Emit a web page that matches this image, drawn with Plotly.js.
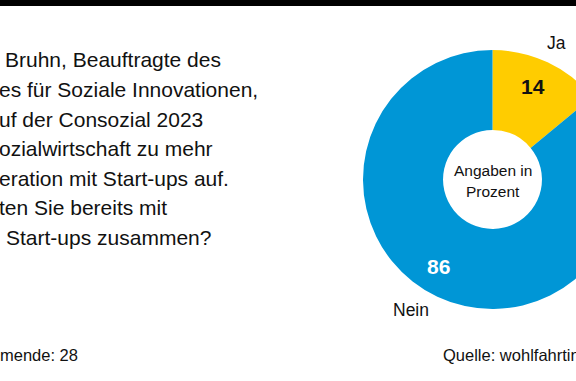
<!DOCTYPE html>
<html>
<head>
<meta charset="utf-8">
<script src="https://cdn.plot.ly/plotly-3.0.1.min.js"></script>
<style>
html,body{margin:0;padding:0;overflow:hidden;background:#fff;width:576px;height:381px;}
#chart{position:absolute;left:0;top:0;width:700px;height:381px;}
</style>
</head>
<body>
<div id="chart"></div>
<script>
// Data
const labels = ['Ja', 'Nein'];
const values = [14, 86];
const sliceColors = ['#FFCC00', '#0096D6'];
const questionLines = [
  'Bruhn, Beauftragte des',
  'es für Soziale Innovationen,',
  'uf der Consozial 2023',
  'ozialwirtschaft zu mehr',
  'eration mit Start-ups auf.',
  'ten Sie bereits mit',
  'Start-ups zusammen?'
];
const centerText = ['Angaben in', 'Prozent'];
const footLeft = 'mende: 28';
const footRight = 'Quelle: wohlfahrtintern.de';

const W = 700, H = 381;
const px = x => x / W;
const py = y => 1 - y / H;

// layout geometry (pixels)
const cx = 492.5, cy = 179.5, R = 129.5;
const lineLeft = [5, -1, -1, -1, -1, -1, 6];
const lineY = [60, 89.5, 119, 148.5, 178, 207.5, 237];
const FONT = 'Liberation Sans, Arial, sans-serif';

const annotations = [];
const baseAnn = {xref: 'paper', yref: 'paper', showarrow: false, borderpad: 0, borderwidth: 0};

questionLines.forEach((t, i) => {
  annotations.push(Object.assign({}, baseAnn, {
    text: t, x: px(lineLeft[i]), y: py(lineY[i]), xanchor: 'left', yanchor: 'middle',
    font: {family: FONT, size: 21, color: '#111111'}
  }));
});

// slice value labels
annotations.push(Object.assign({}, baseAnn, {
  text: '<b>' + values[0] + '</b>', x: px(533), y: py(86.5), xanchor: 'center', yanchor: 'middle',
  font: {family: FONT, size: 21, color: '#111111'}
}));
annotations.push(Object.assign({}, baseAnn, {
  text: '<b>' + values[1] + '</b>', x: px(438.3), y: py(266), xanchor: 'center', yanchor: 'middle',
  font: {family: FONT, size: 21, color: '#ffffff'}
}));
// category labels
annotations.push(Object.assign({}, baseAnn, {
  text: labels[0], x: px(556), y: py(43), xanchor: 'center', yanchor: 'middle',
  font: {family: FONT, size: 17.5, color: '#111111'}
}));
annotations.push(Object.assign({}, baseAnn, {
  text: labels[1], x: px(411), y: py(310), xanchor: 'center', yanchor: 'middle',
  font: {family: FONT, size: 17.5, color: '#111111'}
}));
// center text
annotations.push(Object.assign({}, baseAnn, {
  text: centerText[0], x: px(cx), y: py(170), xanchor: 'center', yanchor: 'middle',
  font: {family: FONT, size: 15.5, color: '#111111'}
}));
annotations.push(Object.assign({}, baseAnn, {
  text: centerText[1], x: px(cx), y: py(191), xanchor: 'center', yanchor: 'middle',
  font: {family: FONT, size: 15.5, color: '#111111'}
}));
// footer
annotations.push(Object.assign({}, baseAnn, {
  text: footLeft, x: px(0), y: py(355), xanchor: 'left', yanchor: 'middle',
  font: {family: FONT, size: 16.5, color: '#111111'}
}));
annotations.push(Object.assign({}, baseAnn, {
  text: footRight, x: px(443), y: py(355), xanchor: 'left', yanchor: 'middle',
  font: {family: FONT, size: 16.5, color: '#111111'}
}));

const trace = {
  type: 'pie',
  labels: labels,
  values: values,
  marker: {colors: sliceColors, line: {width: 0}},
  hole: 0.382,
  sort: false,
  direction: 'clockwise',
  rotation: 0,
  textinfo: 'none',
  hoverinfo: 'none',
  showlegend: false,
  domain: {x: [(cx - R) / W, (cx + R) / W], y: [1 - (cy + R) / H, 1 - (cy - R) / H]}
};

const layout = {
  width: W, height: H,
  margin: {l: 0, r: 0, t: 0, b: 0},
  paper_bgcolor: '#ffffff',
  plot_bgcolor: '#ffffff',
  showlegend: false,
  annotations: annotations,
  shapes: [{type: 'rect', xref: 'paper', yref: 'paper', x0: 0, x1: 1, y0: 1 - 6 / H, y1: 1,
    fillcolor: '#000000', line: {width: 0}, layer: 'above'}]
};

Plotly.newPlot('chart', [trace], layout, {staticPlot: true, displayModeBar: false});
</script>
</body>
</html>
